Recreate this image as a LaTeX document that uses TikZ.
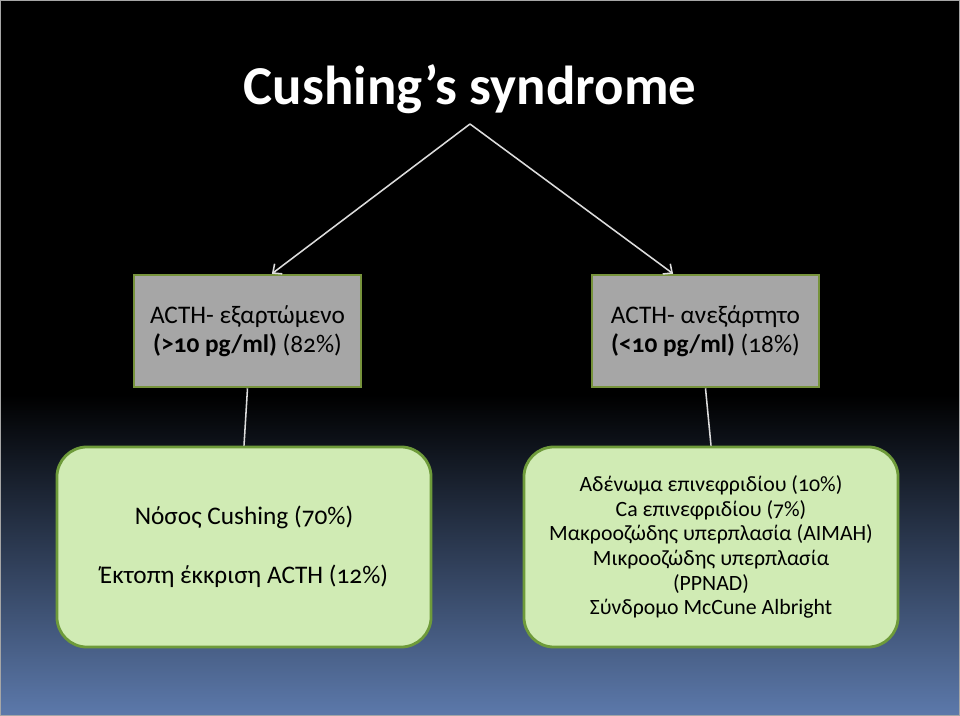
\documentclass[tikz,border=0pt]{standalone}
\usepackage{fontspec}
\setmainfont{Carlito}[Numbers=OldStyle]
\usetikzlibrary{arrows.meta}
\definecolor{boxgray}{HTML}{A6A6A6}
\definecolor{boxedge}{HTML}{77933C}
\definecolor{leafgreen}{HTML}{D0EBB4}
\definecolor{leafedge}{HTML}{6E9B3A}
\definecolor{deepblue}{HTML}{5C79AB}
\definecolor{midblue}{HTML}{3A4D7C}
\definecolor{linegray}{HTML}{DCDCDC}
\tikzset{
    group/.style={rectangle, draw=boxedge, fill=boxgray, line width=1.8pt,
      minimum width=5.675cm, minimum height=2.8cm, align=center,
      font=\fontsize{18}{20.5}\selectfont},
    leaf/.style={rectangle, rounded corners=0.75cm, draw=leafedge, fill=leafgreen,
      line width=2pt, minimum width=9.35cm, minimum height=5cm, align=center},
    link/.style={draw=linegray, line width=1.1pt},
}

\begin{document}
\begin{tikzpicture}[x=0.025cm, y=-0.025cm]
    % slide background
    \fill[black] (0,0) rectangle (960,716);
    \shade[top color=black, middle color=midblue, bottom color=deepblue] (0,395) rectangle (960,716);
    \draw[gray!70, line width=0.6pt] (0.5,0.5) rectangle (959.5,715.5);
    \useasboundingbox (0,0) rectangle (960,716);

    \node[text=white, font=\fontsize{39}{44}\bfseries] (title) at (470,89) {Cushing’s syndrome};
    \coordinate (apex) at (470,124);

    \node[group] (dep) at (247.5,331) {ACTH- εξαρτώμενο\\\textbf{(>10 pg/ml)} (82\%)};
    \node[group] (indep) at (705.5,331) {ACTH- ανεξάρτητο\\\textbf{(<10 pg/ml)} (18\%)};

    \node[leaf, font=\fontsize{18}{21}\selectfont] (cushing) at (244,547)
      {Νόσος Cushing (70\%)\\[21pt]Έκτοπη έκκριση ACTH (12\%)};
    \node[leaf, font=\fontsize{15.5}{17.5}\selectfont] (adrenal) at (711,547)
      {Αδένωμα επινεφριδίου (10\%)\\Ca επινεφριδίου (7\%)\\Μακροοζώδης υπερπλασία (AIMAH)\\Μικροοζώδης υπερπλασία\\(PPNAD)\\Σύνδρομο McCune Albright};

    \draw[link, -{Straight Barb[length=5pt, width=9pt]}] (apex) -- ([xshift=0.61cm]dep.north);
    \draw[link, -{Straight Barb[length=5pt, width=9pt]}] (apex) -- ([xshift=-0.81cm]indep.north);
    \draw[link] (dep.south) -- (cushing.north);
    \draw[link] (indep.south) -- (adrenal.north);
\end{tikzpicture}
\end{document}
